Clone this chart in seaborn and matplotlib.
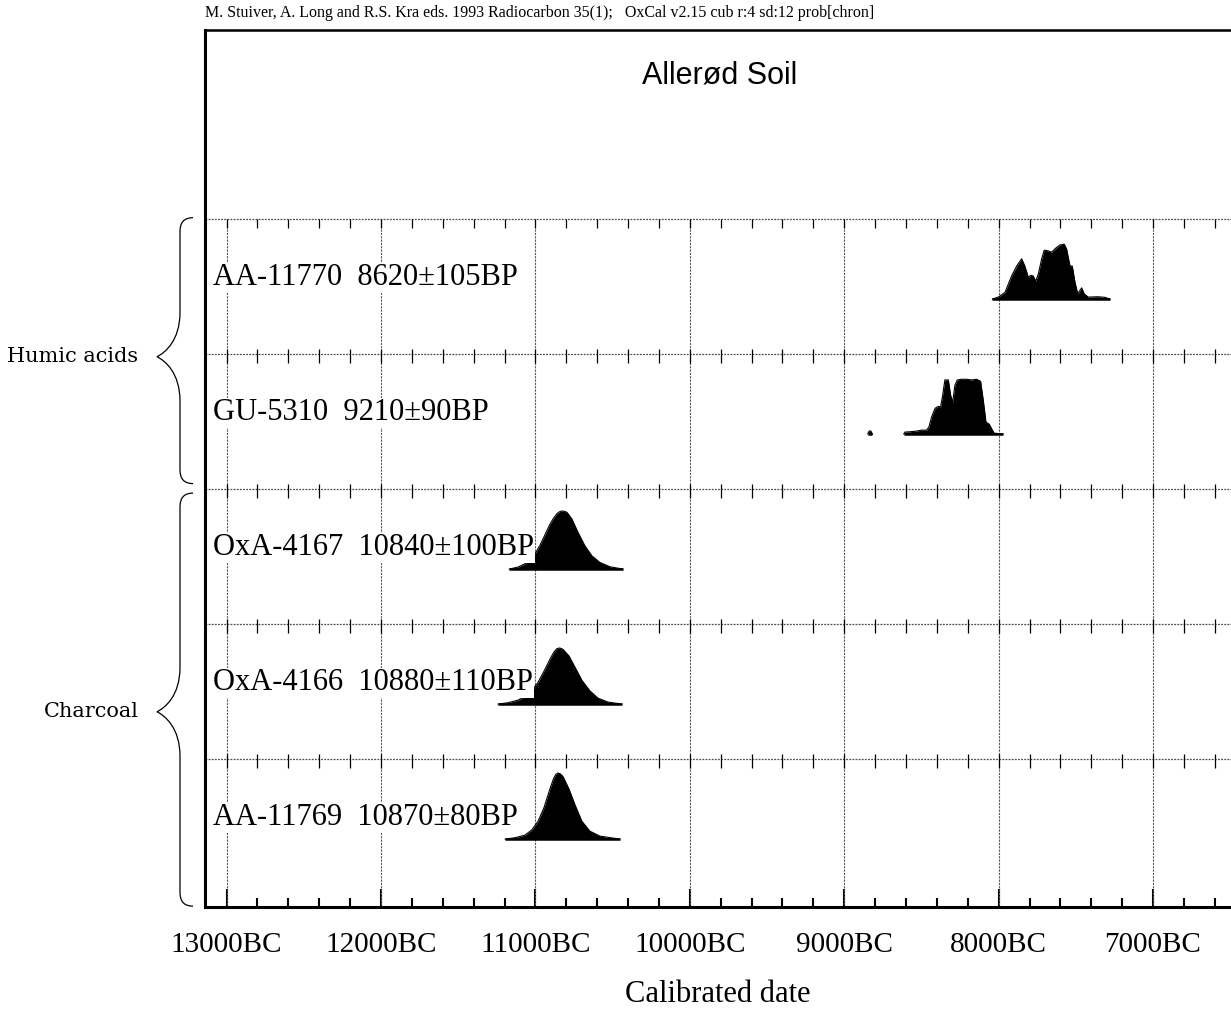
import numpy as np
import pandas as pd
import seaborn as sns
import matplotlib.pyplot as plt
from matplotlib.path import Path
from matplotlib.patches import PathPatch
from matplotlib.transforms import blended_transform_factory
from matplotlib.ticker import MultipleLocator, FuncFormatter

sns.set_style("ticks")
plt.rcParams["font.family"] = ["Liberation Serif", "DejaVu Serif"]
plt.rcParams["text.color"] = "black"
plt.rcParams["xtick.color"] = "black"
plt.rcParams["xtick.labelcolor"] = "black"

# sample labels, top to bottom
labels = ["AA-11770  8620±105BP", "GU-5310  9210±90BP", "OxA-4167  10840±100BP",
          "OxA-4166  10880±110BP", "AA-11769  10870±80BP"]

# calibrated distributions (years BC, relative probability)
aa11770_bc = [8041, 8003, 7959, 7916, 7883, 7851, 7830, 7808, 7791, 7776, 7760, 7743, 7721, 7705,
              7679, 7657, 7631, 7603, 7575, 7560, 7538, 7523, 7506, 7488, 7462, 7446, 7420, 7355,
              7311, 7279]
aa11770_p = [0, 0.03, 0.10, 0.35, 0.50, 0.61, 0.50, 0.33, 0.36, 0.35, 0.27, 0.38, 0.61, 0.74,
             0.73, 0.71, 0.77, 0.82, 0.83, 0.76, 0.50, 0.50, 0.26, 0.08, 0.17, 0.08, 0.03, 0.035,
             0.026, 0]

gu5310_bc = [8615, 8607, 8574, 8531, 8499, 8466, 8451, 8434, 8412, 8391, 8376, 8363, 8348, 8326,
             8311, 8298, 8283, 8268, 8240, 8207, 8175, 8142, 8117, 8100, 8082, 8061, 8045, 8030,
             7970]
gu5310_p = [0, 0.03, 0.035, 0.045, 0.06, 0.06, 0.11, 0.26, 0.39, 0.42, 0.41, 0.58, 0.82, 0.82,
            0.59, 0.48, 0.74, 0.82, 0.83, 0.83, 0.82, 0.83, 0.80, 0.52, 0.18, 0.15, 0.08, 0.015, 0]
gu5310_dot_bc = [8848, 8840, 8833, 8826, 8818]
gu5310_dot_p = [0, 0.04, 0.05, 0.04, 0]

oxa4167_bc = [11170, 11113, 11068, 11036, 11003, 10971, 10938, 10906, 10880, 10860, 10843, 10828,
              10812, 10796, 10764, 10725, 10679, 10634, 10582, 10517, 10433]
oxa4167_p = [0, 0.03, 0.08, 0.14, 0.23, 0.36, 0.52, 0.68, 0.78, 0.84, 0.87, 0.88, 0.875, 0.86,
             0.76, 0.56, 0.35, 0.20, 0.10, 0.035, 0]

oxa4166_bc = [11243, 11178, 11113, 11061, 11022, 10983, 10944, 10906, 10880, 10861, 10842, 10822,
              10783, 10744, 10699, 10647, 10595, 10530, 10440]
oxa4166_p = [0, 0.02, 0.06, 0.12, 0.21, 0.33, 0.50, 0.68, 0.79, 0.84, 0.85, 0.83, 0.73, 0.56,
             0.36, 0.20, 0.09, 0.03, 0]

aa11769_bc = [11197, 11133, 11068, 11023, 10983, 10944, 10906, 10882, 10868, 10855, 10840, 10822,
              10783, 10744, 10699, 10647, 10582, 10453]
aa11769_p = [0, 0.02, 0.06, 0.14, 0.27, 0.48, 0.76, 0.92, 0.98, 1.0, 0.99, 0.95, 0.76, 0.52,
             0.27, 0.12, 0.045, 0]

groups = ["Humic acids", "Charcoal"]
group_spans = [(-0.01, 1.96), (2.03, 5.09)]
group_tips = [1.02, 3.65]

major_bc = [13000, 12000, 11000, 10000, 9000, 8000, 7000]

# layout (row units: one row per sample)
BASE = 0.593
SCALE = 0.489
W, H = 1231, 1010

segments = [(0, aa11770_bc, aa11770_p), (1, gu5310_bc, gu5310_p), (1, gu5310_dot_bc, gu5310_dot_p),
            (2, oxa4167_bc, oxa4167_p), (3, oxa4166_bc, oxa4166_p), (4, aa11769_bc, aa11769_p)]
frames = []
for k, (row, bc, p) in enumerate(segments):
    frames.append(pd.DataFrame({"seg": k, "row": row, "year": -np.array(bc, float), "prob": p}))
df = pd.concat(frames, ignore_index=True)
df["base"] = df["row"] + BASE
df["y"] = df["base"] - df["prob"] * SCALE

fig = plt.figure(figsize=(W / 100, H / 100), dpi=100)
ax = fig.add_axes([205 / W, 1 - 907 / H, 1 - 205 / W, (907 - 30) / H])

for seg, d in df.groupby("seg"):
    ax.fill_between(d["year"], d["base"], d["y"], color="black", lw=0, zorder=3)
    ax.plot([d["year"].min(), d["year"].max()], [d["base"].iloc[0]] * 2, color="black", lw=1.8,
            solid_capstyle="butt", zorder=3)
sns.lineplot(data=df, x="year", y="y", units="seg", estimator=None, sort=False, color="black",
             lw=0.8, ax=ax, zorder=3, legend=False)

ax.set_xlim(-13140, -6495)
ax.set_ylim(5.096, -1.4)
ax.set_yticks([])
ax.set_xlabel("")
ax.set_ylabel("")

ax.xaxis.set_major_locator(MultipleLocator(1000))
ax.xaxis.set_minor_locator(MultipleLocator(200))
ax.xaxis.set_major_formatter(FuncFormatter(lambda v, pos: f"{-v:.0f}BC"))
ax.tick_params(axis="x", which="major", direction="in", length=13, width=1.5, pad=18,
               labelsize=21, color="black", labelcolor="black")
ax.tick_params(axis="x", which="minor", direction="in", length=6.5, width=1.5, color="black")

for side in ["left", "bottom"]:
    ax.spines[side].set_linewidth(2.2)
ax.spines["top"].set_linewidth(1.8)
ax.spines["right"].set_visible(False)
for s in ax.spines.values():
    s.set_color("black")

# grid lines at the major dates, below the first row line
ax.vlines([-b for b in major_bc], 0, 5.096, color="0.35", lw=0.8, linestyle=(0, (2, 1)), zorder=1)

# row separators with their own small ticks
minor_x = np.arange(-13000, -6495, 200)
for r in range(len(labels)):
    ax.axhline(r, color="0.3", lw=0.9, linestyle=(0, (1.5, 1)), zorder=1)
    top = r if r == 0 else r - 0.035
    ax.vlines(minor_x, top, r + 0.065, color="black", lw=0.9, zorder=1)

lab_tr = blended_transform_factory(ax.transAxes, ax.transData)
for r, lab in enumerate(labels):
    ax.annotate(lab, xy=(0, r + 0.49), xycoords=lab_tr, xytext=(5.8, 0), textcoords="offset points",
                fontsize=22, ha="left", va="baseline", zorder=5, color="black",
                bbox=dict(boxstyle="square,pad=0.02", fc="white", ec="none"))

# group braces
for name, (y0, y1), yt in zip(groups, group_spans, group_tips):
    xs = (180 - 205) / 1026
    xh = (193 - 205) / 1026
    xt = (157 - 205) / 1026
    r = 0.1
    verts = [(xh, y0), (xs, y0), (xs, y0 + r),
             (xs, yt - 0.33),
             (xs, yt - 0.12), (xt + 0.008, yt - 0.03), (xt, yt),
             (xt + 0.008, yt + 0.03), (xs, yt + 0.12), (xs, yt + 0.33),
             (xs, y1 - r),
             (xs, y1), (xh, y1)]
    codes = [Path.MOVETO, Path.CURVE3, Path.CURVE3, Path.LINETO,
             Path.CURVE4, Path.CURVE4, Path.CURVE4,
             Path.CURVE4, Path.CURVE4, Path.CURVE4,
             Path.LINETO, Path.CURVE3, Path.CURVE3]
    ax.add_patch(PathPatch(Path(verts, codes), transform=lab_tr, fc="none", ec="black", lw=0.9,
                           clip_on=False))
    ax.text(xt - 0.018, yt, name, transform=lab_tr, ha="right", va="center", fontsize=15,
            family="DejaVu Serif", color="black")

fig.text(720 / W, 1 - 75 / H, "Allerød Soil", ha="center", va="center", fontsize=22,
         family="Liberation Sans", color="black")
fig.text(718 / W, 1 - 995 / H, "Calibrated date", ha="center", va="center", fontsize=22,
         color="black")
fig.text(205 / W, 1 - 13 / H,
         "M. Stuiver, A. Long and R.S. Kra eds. 1993 Radiocarbon 35(1);   "
         "OxCal v2.15 cub r:4 sd:12 prob[chron]",
         ha="left", va="center", fontsize=11.5, color="black")

fig.savefig("out.png", dpi=100)
